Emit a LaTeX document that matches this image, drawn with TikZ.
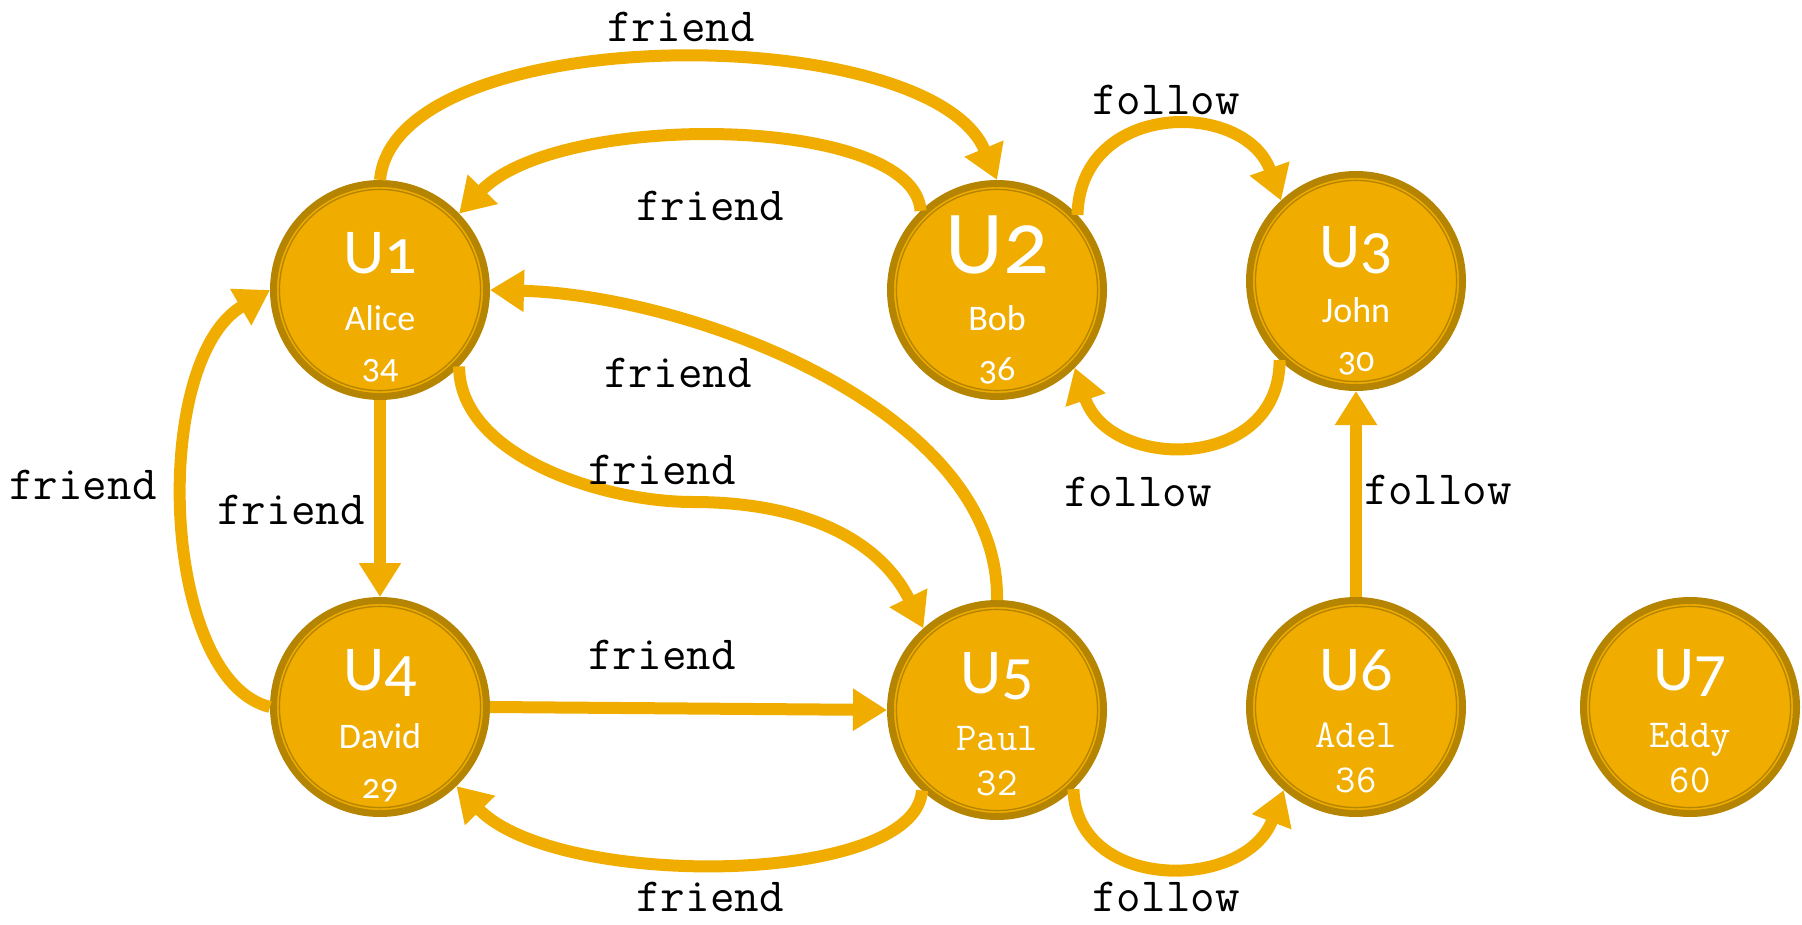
\documentclass[tikz,border=0pt]{standalone}
\usepackage{fontspec}
\setmainfont{Carlito}
\newfontfamily\namefont[Numbers=OldStyle]{Carlito}
\usetikzlibrary{arrows.meta,calc}
\definecolor{nodefill}{RGB}{240,173,0}
\definecolor{nodeborder}{RGB}{181,132,0}
\definecolor{edgecol}{RGB}{240,173,0}
\begin{document}
\begin{tikzpicture}[x=0.5pt,y=-0.5pt,
  user/.style={circle, fill=nodefill, draw=nodeborder, line width=3.5pt,
    minimum size=106.5pt, inner sep=0pt,
    path picture={\draw[nodeborder, line width=0.7pt] (path picture bounding box.center) circle[radius=50.3pt];}},
  uid/.style={text=white, inner sep=0pt, anchor=base, font=\namefont\fontsize{32}{32}\selectfont},
  uidbig/.style={uid, font=\namefont\fontsize{45}{45}\selectfont},
  uname/.style={text=white, inner sep=0pt, anchor=base, font=\namefont\fontsize{18}{18}\selectfont},
  umono/.style={text=white, inner sep=0pt, anchor=base, font=\ttfamily\fontsize{19.8}{19.8}\selectfont},
  rel/.style={text=black, inner sep=0pt, font=\ttfamily\fontsize{23.8}{23.8}\selectfont},
  edge/.style={draw=edgecol, line width=6pt, -{Triangle[length=17pt,width=20pt]}}
]
\useasboundingbox (0,0) rectangle (1802,925);

% nodes
\node[user] (U1) at (380,290) {};
\node[user] (U2) at (997,290) {};
\node[user] (U3) at (1356,281) {};
\node[user] (U4) at (380,707) {};
\node[user] (U5) at (997,710) {};
\node[user] (U6) at (1356,707) {};
\node[user] (U7) at (1690,707) {};

% node texts
\node[uid]    (U1id) at ($(U1)+(0,-17)$) {U1};
\node[uname]  (U1n)  at ($(U1)+(0,40)$)  {Alice};
\node[uname]  (U1a)  at ($(U1)+(0,88)$)  {34};
\node[uidbig] (U2id) at ($(U2)+(0,-17)$) {U2};
\node[uname]  (U2n)  at ($(U2)+(0,40)$)  {Bob};
\node[uname]  (U2a)  at ($(U2)+(0,90)$)  {36};
\node[uid]    (U3id) at ($(U3)+(0,-14)$) {U3};
\node[uname]  (U3n)  at ($(U3)+(0,41)$)  {John};
\node[uname]  (U3a)  at ($(U3)+(0,90)$)  {30};
\node[uid]    (U4id) at ($(U4)+(0,-17)$) {U4};
\node[uname]  (U4n)  at ($(U4)+(0,41)$)  {David};
\node[uname]  (U4a)  at ($(U4)+(0,91)$)  {29};
\node[uid]    (U5id) at ($(U5)+(0,-17)$) {U5};
\node[umono]  (U5n)  at ($(U5)+(0,40)$)  {Paul};
\node[umono]  (U5a)  at ($(U5)+(0,85)$)  {32};
\node[uid]    (U6id) at ($(U6)+(0,-17)$) {U6};
\node[umono]  (U6n)  at ($(U6)+(0,40)$)  {Adel};
\node[umono]  (U6a)  at ($(U6)+(0,85)$)  {36};
\node[uid]    (U7id) at ($(U7)+(0,-17)$) {U7};
\node[umono]  (U7n)  at ($(U7)+(0,40)$)  {Eddy};
\node[umono]  (U7a)  at ($(U7)+(0,85)$)  {60};

% edges
\draw[edge] (U1.north) .. controls +(15,-161) and +(-67,-161) .. (U2.north);
\draw[edge] (U2.134) .. controls +(-6,-96) and +(101,-104) .. (U1.44);
\draw[edge] (U5.north) .. controls +(3,-190) and +(200,5) .. (U1.east);
\coordinate (m1) at (693,502);
\draw[edge] (U1.-44) .. controls +(0,88) and +(-93,0) .. (m1)
                     .. controls +(107,0) and +(-45,-91) .. (U5.132);
\draw[edge] (U1.south) -- (U4.north);
\draw[edge] (U4.west) .. controls +(-110,-27) and +(-120,70) .. (U1.west);
\draw[edge] (U4.east) -- (U5.west);
\draw[edge] (U5.227) .. controls +(-6,96) and +(101,104) .. (U4.-46);
\draw[edge] (U2.43) .. controls +(3,-115) and +(-36,-101) .. (U3.133);
\draw[edge] (U3.226) .. controls +(0,112) and +(35,104) .. (U2.-45);
\draw[edge] (U6.north) -- (U3.south);
\draw[edge] (U5.-46) .. controls +(3,103) and +(-39,102) .. (U6.229);

% edge labels
\node[rel] (l1)  at (681,27)   {friend};
\node[rel] (l2)  at (710,206)  {friend};
\node[rel] (l3)  at (1166,100) {follow};
\node[rel] (l4)  at (678,373)  {friend};
\node[rel] (l5)  at (662,470)  {friend};
\node[rel] (l6)  at (83,485)   {friend};
\node[rel] (l7)  at (291,510)  {friend};
\node[rel] (l8)  at (662,655)  {friend};
\node[rel] (l9)  at (710,897)  {friend};
\node[rel] (l10) at (1138,492) {follow};
\node[rel] (l11) at (1438,490) {follow};
\node[rel] (l12) at (1166,897) {follow};
\end{tikzpicture}
\end{document}
